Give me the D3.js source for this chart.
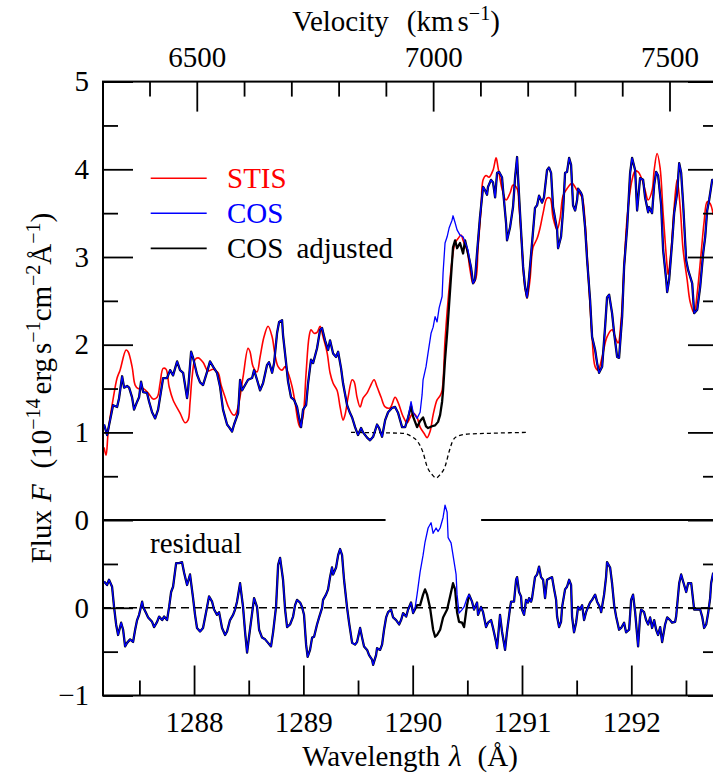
<!DOCTYPE html>
<html><head><meta charset="utf-8">
<script src="https://cdn.jsdelivr.net/npm/d3@7"></script>
<style>
#chart text, #chart tspan { font-family: "Liberation Serif", "Times New Roman", Tinos, "Liberation Serif"; }
</style>
</head><body style="margin:0">
<svg id="chart" width="713" height="777"></svg>
<script>
// ---------------- DATA ----------------
// STIS flux [wavelength (Å), flux (1e-14 erg/s/cm2/Å)]
const stisFlux = [[1287.177,0.83],[1287.195,0.74],[1287.216,1.03],[1287.262,1.40],[1287.296,1.62],[1287.323,1.71],[1287.378,1.94],[1287.397,1.92],[1287.433,1.75],[1287.461,1.54],[1287.488,1.50],[1287.534,1.50],[1287.580,1.45],[1287.625,1.38],[1287.662,1.40],[1287.689,1.56],[1287.717,1.73],[1287.744,1.72],[1287.772,1.52],[1287.808,1.37],[1287.872,1.22],[1287.918,1.11],[1287.945,1.14],[1287.963,1.34],[1287.982,1.63],[1288.009,1.83],[1288.037,1.85],[1288.082,1.80],[1288.128,1.70],[1288.174,1.72],[1288.220,1.68],[1288.247,1.54],[1288.284,1.40],[1288.311,1.30],[1288.357,1.20],[1288.375,1.20],[1288.403,1.29],[1288.448,1.63],[1288.494,1.96],[1288.512,1.92],[1288.540,1.75],[1288.576,1.69],[1288.604,1.86],[1288.640,2.09],[1288.677,2.21],[1288.714,2.09],[1288.741,1.88],[1288.769,1.75],[1288.805,1.71],[1288.833,1.75],[1288.860,1.68],[1288.897,1.52],[1288.924,1.34],[1288.952,1.12],[1288.970,1.06],[1288.997,1.18],[1289.025,1.68],[1289.052,2.09],[1289.070,2.17],[1289.098,2.13],[1289.125,2.14],[1289.153,2.21],[1289.180,2.09],[1289.217,1.91],[1289.244,1.68],[1289.272,1.56],[1289.308,1.48],[1289.336,1.29],[1289.363,1.14],[1289.381,1.20],[1289.409,1.40],[1289.446,1.60],[1289.464,1.58],[1289.491,1.40],[1289.519,1.29],[1289.546,1.39],[1289.583,1.45],[1289.610,1.52],[1289.647,1.60],[1289.674,1.52],[1289.711,1.40],[1289.748,1.29],[1289.793,1.28],[1289.839,1.40],[1289.867,1.34],[1289.913,1.18],[1289.949,1.11],[1289.976,1.17],[1290.004,1.22],[1290.040,1.17],[1290.068,1.06],[1290.104,0.99],[1290.132,0.94],[1290.159,1.01],[1290.187,1.20],[1290.223,1.37],[1290.251,1.42],[1290.269,1.48],[1290.296,2.05],[1290.324,2.51],[1290.360,2.96],[1290.388,3.16],[1290.415,3.21],[1290.443,3.25],[1290.461,3.19],[1290.497,3.08],[1290.525,2.85],[1290.552,2.70],[1290.580,2.77],[1290.598,3.11],[1290.625,3.53],[1290.644,3.88],[1290.671,3.93],[1290.699,3.91],[1290.735,3.99],[1290.763,4.13],[1290.781,4.02],[1290.817,3.78],[1290.854,3.65],[1290.891,3.73],[1290.918,3.82],[1290.955,3.78],[1290.973,3.57],[1291.000,3.11],[1291.019,2.74],[1291.046,2.53],[1291.073,2.74],[1291.101,3.11],[1291.138,3.21],[1291.165,3.33],[1291.193,3.50],[1291.229,3.67],[1291.257,3.67],[1291.284,3.45],[1291.321,3.31],[1291.348,3.44],[1291.376,3.70],[1291.412,3.78],[1291.458,3.84],[1291.504,3.76],[1291.550,3.68],[1291.577,3.39],[1291.605,2.82],[1291.641,2.09],[1291.669,1.75],[1291.696,1.71],[1291.733,1.86],[1291.778,2.09],[1291.824,2.17],[1291.852,2.09],[1291.879,2.02],[1291.907,2.28],[1291.934,2.89],[1291.962,3.45],[1292.007,3.88],[1292.035,3.98],[1292.062,3.97],[1292.099,3.88],[1292.126,3.76],[1292.154,3.65],[1292.190,3.76],[1292.209,3.99],[1292.236,4.18],[1292.263,4.02],[1292.291,3.50],[1292.328,2.89],[1292.337,2.80],[1292.364,3.08],[1292.392,3.57],[1292.419,3.88],[1292.447,3.57],[1292.474,3.08],[1292.511,2.74],[1292.538,2.49],[1292.575,2.36],[1292.603,2.59],[1292.639,3.05],[1292.666,3.40],[1292.694,3.63],[1292.721,3.61],[1292.749,3.48]];

// COS flux
const cosFlux = [[1287.177,1.09],[1287.204,0.97],[1287.232,1.14],[1287.259,1.31],[1287.296,1.29],[1287.314,1.39],[1287.342,1.64],[1287.360,1.51],[1287.387,1.53],[1287.406,1.51],[1287.433,1.40],[1287.451,1.26],[1287.479,1.35],[1287.497,1.40],[1287.515,1.58],[1287.534,1.46],[1287.570,1.45],[1287.589,1.35],[1287.616,1.23],[1287.644,1.16],[1287.671,1.26],[1287.689,1.40],[1287.717,1.62],[1287.753,1.62],[1287.781,1.71],[1287.808,1.65],[1287.845,1.81],[1287.872,1.71],[1287.900,1.68],[1287.936,1.39],[1287.945,1.48],[1287.973,1.92],[1287.991,1.85],[1288.027,1.66],[1288.055,1.57],[1288.082,1.54],[1288.119,1.69],[1288.146,1.81],[1288.174,1.75],[1288.210,1.68],[1288.238,1.52],[1288.265,1.26],[1288.302,1.09],[1288.320,1.06],[1288.348,1.01],[1288.366,1.09],[1288.403,1.22],[1288.421,1.60],[1288.439,1.48],[1288.467,1.54],[1288.494,1.60],[1288.531,1.62],[1288.549,1.71],[1288.576,1.60],[1288.604,1.48],[1288.631,1.56],[1288.668,1.77],[1288.686,1.80],[1288.714,1.68],[1288.732,1.79],[1288.759,2.13],[1288.778,2.26],[1288.805,2.28],[1288.814,2.11],[1288.842,1.79],[1288.860,1.58],[1288.887,1.40],[1288.915,1.37],[1288.942,1.29],[1288.961,1.16],[1288.979,1.06],[1288.997,1.26],[1289.025,1.31],[1289.043,1.56],[1289.070,1.83],[1289.089,1.79],[1289.125,1.96],[1289.153,2.17],[1289.171,2.19],[1289.198,2.05],[1289.226,1.94],[1289.244,2.05],[1289.272,1.90],[1289.299,1.86],[1289.318,1.92],[1289.345,1.73],[1289.363,1.56],[1289.400,1.31],[1289.427,1.22],[1289.446,1.17],[1289.473,1.06],[1289.500,0.97],[1289.528,1.05],[1289.546,1.00],[1289.583,0.94],[1289.610,0.91],[1289.638,0.95],[1289.674,1.09],[1289.693,1.05],[1289.720,0.95],[1289.748,1.14],[1289.775,1.23],[1289.812,1.28],[1289.839,1.29],[1289.867,1.22],[1289.903,1.06],[1289.931,1.06],[1289.958,1.17],[1289.985,1.35],[1290.004,1.23],[1290.040,1.16],[1290.068,1.23],[1290.086,1.43],[1290.095,1.60],[1290.122,1.75],[1290.141,1.91],[1290.168,2.13],[1290.187,2.20],[1290.205,2.32],[1290.223,2.26],[1290.242,2.42],[1290.269,2.55],[1290.278,2.82],[1290.296,3.16],[1290.315,3.23],[1290.333,3.33],[1290.360,3.42],[1290.369,3.47],[1290.388,3.39],[1290.406,3.31],[1290.433,3.25],[1290.461,3.23],[1290.479,3.17],[1290.506,3.08],[1290.534,2.88],[1290.552,2.70],[1290.570,2.74],[1290.589,3.05],[1290.616,3.46],[1290.644,3.80],[1290.662,3.76],[1290.680,3.71],[1290.689,3.80],[1290.717,3.88],[1290.735,3.85],[1290.754,3.68],[1290.772,3.96],[1290.790,3.97],[1290.817,3.91],[1290.827,3.76],[1290.854,3.39],[1290.863,3.19],[1290.891,3.34],[1290.918,3.57],[1290.937,3.91],[1290.955,4.14],[1290.964,3.91],[1290.982,3.50],[1291.010,2.89],[1291.028,2.66],[1291.046,2.54],[1291.065,2.77],[1291.092,3.16],[1291.119,3.56],[1291.138,3.59],[1291.156,3.70],[1291.183,3.62],[1291.201,3.68],[1291.229,3.99],[1291.247,4.02],[1291.266,3.96],[1291.284,3.57],[1291.321,3.31],[1291.330,3.10],[1291.357,3.23],[1291.376,3.53],[1291.394,3.96],[1291.412,3.97],[1291.431,4.13],[1291.449,4.05],[1291.467,3.59],[1291.486,3.53],[1291.504,3.65],[1291.513,3.78],[1291.540,3.73],[1291.550,3.70],[1291.577,3.34],[1291.596,2.96],[1291.623,2.51],[1291.641,2.09],[1291.669,1.94],[1291.687,1.79],[1291.705,1.68],[1291.733,1.75],[1291.760,2.20],[1291.778,2.54],[1291.797,2.57],[1291.824,2.36],[1291.843,2.13],[1291.870,1.86],[1291.888,1.85],[1291.916,2.32],[1291.934,2.89],[1291.962,3.34],[1291.989,3.96],[1292.007,4.13],[1292.035,3.99],[1292.053,3.53],[1292.080,3.90],[1292.108,3.88],[1292.126,3.68],[1292.154,3.51],[1292.163,3.57],[1292.190,3.50],[1292.209,3.82],[1292.227,3.97],[1292.245,3.93],[1292.273,3.59],[1292.291,3.08],[1292.319,2.74],[1292.328,2.60],[1292.346,2.74],[1292.373,3.16],[1292.392,3.50],[1292.419,3.73],[1292.438,4.07],[1292.456,3.96],[1292.474,3.61],[1292.502,2.96],[1292.520,2.85],[1292.557,2.70],[1292.575,2.36],[1292.603,2.40],[1292.630,2.66],[1292.658,3.05],[1292.676,3.23],[1292.694,3.53],[1292.712,3.65],[1292.740,3.88],[1292.749,3.88]];

// COS adjusted: differs from COS only over this wavelength stretch
const cosAdjustedSegment = [[1289.985,1.30],[1290.004,1.18],[1290.040,1.06],[1290.068,1.13],[1290.095,1.17],[1290.122,1.07],[1290.141,1.05],[1290.177,1.07],[1290.205,1.08],[1290.232,1.12],[1290.251,1.20],[1290.269,1.35],[1290.278,1.48],[1290.296,1.83],[1290.315,2.13],[1290.342,2.62],[1290.369,3.11],[1290.388,3.19],[1290.406,3.10],[1290.433,3.16],[1290.461,3.04],[1290.479,3.19],[1290.506,3.04]];

// Model absorption (dotted)
const modelFlux = [[1289.436,1.00],[1289.903,0.99],[1289.994,0.95],[1290.049,0.89],[1290.095,0.77],[1290.132,0.61],[1290.177,0.52],[1290.214,0.48],[1290.251,0.52],[1290.296,0.61],[1290.333,0.78],[1290.369,0.91],[1290.415,0.96],[1290.498,0.98],[1290.708,0.99],[1291.046,1.00]];

// Residual (COS - STIS)
const cosResidual = [[1287.177,0.30],[1287.204,0.26],[1287.222,0.32],[1287.250,0.24],[1287.268,0.01],[1287.287,-0.19],[1287.305,-0.31],[1287.333,-0.17],[1287.351,-0.25],[1287.369,-0.44],[1287.387,-0.40],[1287.415,-0.36],[1287.442,-0.39],[1287.461,-0.25],[1287.479,-0.14],[1287.497,-0.08],[1287.525,0.07],[1287.534,0.01],[1287.561,-0.06],[1287.580,-0.11],[1287.616,-0.16],[1287.634,-0.22],[1287.662,-0.16],[1287.680,-0.10],[1287.708,-0.14],[1287.726,-0.10],[1287.753,-0.14],[1287.772,0.01],[1287.790,0.18],[1287.808,0.24],[1287.836,0.51],[1287.863,0.51],[1287.890,0.52],[1287.909,0.40],[1287.936,0.26],[1287.963,0.38],[1287.991,0.11],[1288.009,-0.08],[1288.027,-0.23],[1288.055,-0.27],[1288.082,-0.23],[1288.110,-0.05],[1288.137,0.13],[1288.165,0.07],[1288.183,-0.02],[1288.210,-0.08],[1288.229,-0.05],[1288.256,-0.23],[1288.284,-0.31],[1288.302,-0.27],[1288.329,-0.14],[1288.357,-0.08],[1288.375,-0.02],[1288.393,0.07],[1288.421,0.28],[1288.448,0.01],[1288.467,-0.28],[1288.485,-0.51],[1288.503,-0.33],[1288.531,-0.06],[1288.549,0.11],[1288.576,0.01],[1288.595,-0.25],[1288.622,-0.34],[1288.650,-0.36],[1288.677,-0.40],[1288.704,-0.44],[1288.723,-0.28],[1288.750,0.01],[1288.769,0.49],[1288.787,0.57],[1288.814,0.32],[1288.833,-0.02],[1288.851,-0.22],[1288.878,-0.19],[1288.906,-0.10],[1288.924,0.03],[1288.942,0.09],[1288.970,0.06],[1288.988,0.01],[1289.006,-0.08],[1289.025,-0.42],[1289.039,-0.56],[1289.061,-0.48],[1289.080,-0.34],[1289.098,-0.33],[1289.125,-0.19],[1289.144,-0.11],[1289.171,0.00],[1289.180,0.09],[1289.207,0.15],[1289.226,0.21],[1289.244,0.35],[1289.262,0.46],[1289.272,0.38],[1289.299,0.46],[1289.318,0.60],[1289.336,0.67],[1289.354,0.60],[1289.372,0.32],[1289.400,0.00],[1289.418,-0.17],[1289.446,-0.40],[1289.473,-0.42],[1289.491,-0.39],[1289.519,-0.23],[1289.537,-0.34],[1289.555,-0.44],[1289.583,-0.48],[1289.601,-0.54],[1289.628,-0.59],[1289.638,-0.65],[1289.665,-0.54],[1289.674,-0.46],[1289.702,-0.48],[1289.720,-0.42],[1289.738,-0.25],[1289.757,-0.11],[1289.775,-0.05],[1289.802,-0.02],[1289.821,-0.11],[1289.848,-0.14],[1289.876,-0.19],[1289.894,-0.14],[1289.912,-0.06],[1289.940,-0.10],[1289.958,-0.02],[1289.985,0.06],[1290.004,-0.06],[1290.022,0.00],[1290.040,0.15],[1290.068,0.41],[1290.095,0.60],[1290.113,0.75],[1290.141,0.91],[1290.168,0.97],[1290.187,0.85],[1290.214,0.91],[1290.232,0.87],[1290.251,0.91],[1290.278,1.03],[1290.296,1.17],[1290.315,1.09],[1290.324,0.80],[1290.351,0.74],[1290.369,0.60],[1290.397,0.38],[1290.406,0.15],[1290.424,-0.06],[1290.452,-0.02],[1290.470,0.01],[1290.497,0.11],[1290.516,0.15],[1290.543,0.07],[1290.561,-0.02],[1290.589,0.06],[1290.598,-0.08],[1290.625,0.01],[1290.644,-0.05],[1290.671,-0.22],[1290.689,-0.17],[1290.717,-0.14],[1290.735,-0.23],[1290.763,-0.39],[1290.772,-0.46],[1290.799,-0.08],[1290.817,-0.27],[1290.845,-0.48],[1290.863,-0.27],[1290.891,0.00],[1290.900,0.07],[1290.927,0.07],[1290.946,0.32],[1290.955,0.35],[1290.973,0.18],[1290.991,0.13],[1291.000,-0.02],[1291.019,-0.08],[1291.037,0.09],[1291.055,0.06],[1291.065,0.11],[1291.083,0.07],[1291.092,0.11],[1291.119,0.35],[1291.138,0.38],[1291.156,0.47],[1291.174,0.35],[1291.193,0.32],[1291.211,0.11],[1291.229,0.32],[1291.257,0.34],[1291.275,0.35],[1291.294,0.21],[1291.312,0.09],[1291.321,-0.10],[1291.339,-0.22],[1291.357,-0.16],[1291.367,0.01],[1291.394,0.21],[1291.412,0.24],[1291.431,0.32],[1291.449,0.26],[1291.458,-0.10],[1291.476,-0.28],[1291.495,-0.17],[1291.513,0.01],[1291.531,-0.02],[1291.550,0.03],[1291.568,-0.14],[1291.586,-0.05],[1291.605,0.01],[1291.623,0.06],[1291.641,0.09],[1291.669,0.15],[1291.687,0.07],[1291.715,0.00],[1291.724,-0.05],[1291.751,0.15],[1291.769,0.35],[1291.778,0.52],[1291.806,0.46],[1291.824,0.28],[1291.843,0.03],[1291.861,-0.10],[1291.888,-0.25],[1291.907,-0.23],[1291.934,-0.17],[1291.952,-0.28],[1291.980,-0.25],[1291.998,0.09],[1292.016,0.15],[1292.035,-0.05],[1292.062,-0.44],[1292.080,-0.10],[1292.090,-0.02],[1292.117,-0.05],[1292.135,-0.14],[1292.154,-0.19],[1292.172,-0.11],[1292.190,-0.23],[1292.209,-0.14],[1292.227,-0.25],[1292.245,-0.31],[1292.264,-0.22],[1292.282,-0.39],[1292.309,-0.19],[1292.328,-0.11],[1292.355,-0.14],[1292.373,-0.17],[1292.401,-0.16],[1292.410,-0.10],[1292.438,0.28],[1292.456,0.38],[1292.474,0.30],[1292.502,0.18],[1292.520,0.28],[1292.548,0.28],[1292.575,-0.02],[1292.593,-0.02],[1292.630,-0.02],[1292.648,-0.10],[1292.666,-0.23],[1292.685,-0.19],[1292.703,-0.06],[1292.721,0.11],[1292.730,0.28],[1292.749,0.40]];

// Residual of COS adjusted: differs only over this stretch
const cosAdjustedResidualSegment = [[1290.004,-0.06],[1290.040,0.03],[1290.068,0.03],[1290.095,0.15],[1290.113,0.21],[1290.132,0.15],[1290.159,0.00],[1290.187,-0.25],[1290.205,-0.33],[1290.223,-0.31],[1290.251,-0.25],[1290.278,-0.11],[1290.315,-0.02],[1290.342,0.13],[1290.369,0.28],[1290.388,0.21],[1290.406,-0.05],[1290.424,-0.16],[1290.452,-0.17],[1290.470,-0.22],[1290.497,0.03],[1290.516,0.15]];

// Axes / ticks
const waveDomain = [1287.167, 1292.793];
const velocityDomain = [6301.6, 7602.6];
const waveMajorTicks = [1288, 1289, 1290, 1291, 1292];
const waveMinorTicks = [1287.5, 1288.5, 1289.5, 1290.5, 1291.5, 1292.5];
const velMajorTicks = [6500, 7000, 7500];
const velMinorTicks = [6400, 6600, 6700, 6800, 6900, 7100, 7200, 7300, 7400, 7600];
const fluxMajorTicks = [0, 1, 2, 3, 4, 5];
const fluxMinorTicks = [0.5, 1.5, 2.5, 3.5, 4.5];
const residualMajorTicks = [-1, 0];
const residualMinorTicks = [-0.5, 0.5];
const residualOffset = -1;          // residual zero is drawn at flux -1
const zeroLineGap = [1289.752, 1290.626];
const seriesNames = ["STIS", "COS", "COS adjusted"];
const seriesColors = ["#ff0000", "#0000ff", "#000000"];

// ---------------- DRAW ----------------
const FAM = '"Liberation Serif", "Times New Roman", Tinos, "Liberation Serif"';
const svg = d3.select("#chart");
const P = {left: 103, right: 718, top: 81.6, bottom: 695.5};
const FONT = 29;

const x = d3.scaleLinear().domain(waveDomain).range([P.left, P.right]);
const xv = d3.scaleLinear().domain(velocityDomain).range([P.left, P.right]);
const y = d3.scaleLinear().domain([-2, 5]).range([P.bottom, P.top]);
const yr = r => y(r + residualOffset);

svg.append("defs").append("clipPath").attr("id", "clip")
  .append("rect").attr("x", P.left).attr("y", P.top)
  .attr("width", P.right - P.left).attr("height", P.bottom - P.top);

const g = svg.append("g").attr("clip-path", "url(#clip)");

function withSegment(base, seg) {
  const a = seg[0][0] - 1e-4, b = seg[seg.length - 1][0] + 1e-4;
  return base.filter(d => d[0] < a || d[0] > b).concat(seg).sort((p, q) => p[0] - q[0]);
}
const cosAdjustedFlux = withSegment(cosFlux, cosAdjustedSegment);
const cosAdjustedResidual = withSegment(cosResidual, cosAdjustedResidualSegment);

[[waveDomain[0], zeroLineGap[0]], [zeroLineGap[1], waveDomain[1]]].forEach(s => {
  g.append("line").attr("x1", x(s[0])).attr("x2", x(s[1]))
    .attr("y1", y(0)).attr("y2", y(0)).attr("stroke", "#000").attr("stroke-width", 2);
});
g.append("line").attr("x1", x(waveDomain[0])).attr("x2", x(waveDomain[1]))
  .attr("y1", yr(0)).attr("y2", yr(0)).attr("stroke", "#000")
  .attr("stroke-width", 1.6).attr("stroke-dasharray", "8,5");

const lineF = d3.line().x(d => x(d[0])).y(d => y(d[1]));
const lineR = d3.line().x(d => x(d[0])).y(d => yr(d[1]));
const lineSmooth = d3.line().x(d => x(d[0])).y(d => y(d[1])).curve(d3.curveCatmullRom.alpha(0.5));
const lineModel = d3.line().x(d => x(d[0])).y(d => y(d[1])).curve(d3.curveMonotoneX);

g.append("path").attr("d", lineModel(modelFlux)).attr("fill", "none")
  .attr("stroke", "#000").attr("stroke-width", 1.3).attr("stroke-dasharray", "4,3");

g.append("path").attr("d", lineSmooth(stisFlux)).attr("fill", "none")
  .attr("stroke", seriesColors[0]).attr("stroke-width", 1.6);
g.append("path").attr("d", lineF(cosAdjustedFlux)).attr("fill", "none")
  .attr("stroke", seriesColors[2]).attr("stroke-width", 2.3).attr("stroke-linejoin", "round");
g.append("path").attr("d", lineF(cosFlux)).attr("fill", "none")
  .attr("stroke", seriesColors[1]).attr("stroke-width", 1.3).attr("stroke-linejoin", "round");

g.append("path").attr("d", lineR(cosAdjustedResidual)).attr("fill", "none")
  .attr("stroke", seriesColors[2]).attr("stroke-width", 2.3).attr("stroke-linejoin", "round");
g.append("path").attr("d", lineR(cosResidual)).attr("fill", "none")
  .attr("stroke", seriesColors[1]).attr("stroke-width", 1.3).attr("stroke-linejoin", "round");

function F(sel, size) {
  return sel.attr("font-size", size || FONT).style("font-family", FAM);
}
function styleAxis(sel) {
  sel.select(".domain").remove();
  sel.attr("font-family", null).attr("font-size", FONT);
  sel.selectAll("line").attr("stroke", "#000").attr("stroke-width", 1.8);
  F(sel.selectAll("text")).attr("fill", "#000");
}
const fmtMinus = v => (v < 0 ? "\u2212" + Math.abs(v) : String(v));

svg.append("g").attr("transform", `translate(0,${P.bottom})`)
  .call(d3.axisBottom(x).tickValues(waveMajorTicks).tickFormat(d3.format("d"))
    .tickSizeInner(-30).tickSizeOuter(0).tickPadding(16)).call(styleAxis);
svg.append("g").attr("transform", `translate(0,${P.bottom})`)
  .call(d3.axisBottom(x).tickValues(waveMinorTicks).tickFormat("")
    .tickSizeInner(-15).tickSizeOuter(0)).call(styleAxis);
svg.append("g").attr("transform", `translate(0,${P.top})`)
  .call(d3.axisTop(xv).tickValues(velMajorTicks).tickFormat(d3.format("d"))
    .tickSizeInner(-30).tickSizeOuter(0).tickPadding(15)).call(styleAxis);
svg.append("g").attr("transform", `translate(0,${P.top})`)
  .call(d3.axisTop(xv).tickValues(velMinorTicks).tickFormat("")
    .tickSizeInner(-15).tickSizeOuter(0)).call(styleAxis);

const yMajorPos = fluxMajorTicks.concat(residualMajorTicks.map(r => r + residualOffset));
const yMinorPos = fluxMinorTicks.concat(residualMinorTicks.map(r => r + residualOffset));
const yLabel = v => v >= 0 ? fmtMinus(v) : fmtMinus(v - residualOffset);
svg.append("g").attr("transform", `translate(${P.left},0)`)
  .call(d3.axisLeft(y).tickValues(yMajorPos).tickFormat(yLabel)
    .tickSizeInner(-30).tickSizeOuter(0).tickPadding(14)).call(styleAxis);
svg.append("g").attr("transform", `translate(${P.left},0)`)
  .call(d3.axisLeft(y).tickValues(yMinorPos).tickFormat("")
    .tickSizeInner(-15).tickSizeOuter(0)).call(styleAxis);
svg.append("g").attr("transform", `translate(${P.right},0)`)
  .call(d3.axisRight(y).tickValues(yMajorPos).tickFormat("")
    .tickSizeInner(-30).tickSizeOuter(0)).call(styleAxis);
svg.append("g").attr("transform", `translate(${P.right},0)`)
  .call(d3.axisRight(y).tickValues(yMinorPos).tickFormat("")
    .tickSizeInner(-15).tickSizeOuter(0)).call(styleAxis);

svg.append("rect").attr("x", P.left).attr("y", P.top)
  .attr("width", P.right - P.left).attr("height", P.bottom - P.top)
  .attr("fill", "none").attr("stroke", "#000").attr("stroke-width", 2);

function sup(t, txt) { return F(t.append("tspan"), 20).attr("dy", -11).text(txt); }

const xt = F(svg.append("text")).attr("x", 410).attr("y", 766).attr("text-anchor", "middle");
F(xt.append("tspan")).text("Wavelength");
F(xt.append("tspan")).attr("dx", 9).style("font-style", "italic").text("λ");
F(xt.append("tspan")).attr("dx", 16).text("(Å)");

const vt = F(svg.append("text")).attr("x", 396).attr("y", 31).attr("text-anchor", "middle");
F(vt.append("tspan")).text("Velocity");
F(vt.append("tspan")).attr("dx", 18).text("(km");
F(vt.append("tspan")).attr("dx", 4).text("s");
sup(vt, "\u22121");
F(vt.append("tspan")).attr("dy", 11).text(")");

const yt = F(svg.append("text")).attr("transform", "translate(51,388) rotate(-90)")
  .attr("text-anchor", "middle");
F(yt.append("tspan")).text("Flux");
F(yt.append("tspan")).attr("dx", 8).style("font-style", "italic").text("F");
F(yt.append("tspan")).attr("dx", 16).text("(10");
sup(yt, "\u221214");
F(yt.append("tspan")).attr("dy", 11).attr("dx", 4).text("erg");
F(yt.append("tspan")).attr("dx", 4).text("s");
sup(yt, "\u22121");
F(yt.append("tspan")).attr("dy", 11).text("cm");
sup(yt, "\u22122");
F(yt.append("tspan")).attr("dy", 11).text("Å");
sup(yt, "\u22121");
F(yt.append("tspan")).attr("dy", 11).text(")");

const legY = [178.3, 213.3, 248.3];
seriesNames.forEach((name, i) => {
  svg.append("line").attr("x1", 150.7).attr("x2", 206.7).attr("y1", legY[i]).attr("y2", legY[i])
    .attr("stroke", seriesColors[i]).attr("stroke-width", i === 2 ? 1.8 : 1.4);
  const t = F(svg.append("text")).attr("x", 227).attr("y", legY[i] + 9.5)
    .attr("fill", seriesColors[i]);
  const parts = name.split(" ");
  F(t.append("tspan")).text(parts[0]);
  if (parts[1]) F(t.append("tspan")).attr("dx", 13).text(parts[1]);
});

F(svg.append("text")).attr("x", 150).attr("y", 553).attr("fill", "#000").text("residual");
</script>
</body></html>
